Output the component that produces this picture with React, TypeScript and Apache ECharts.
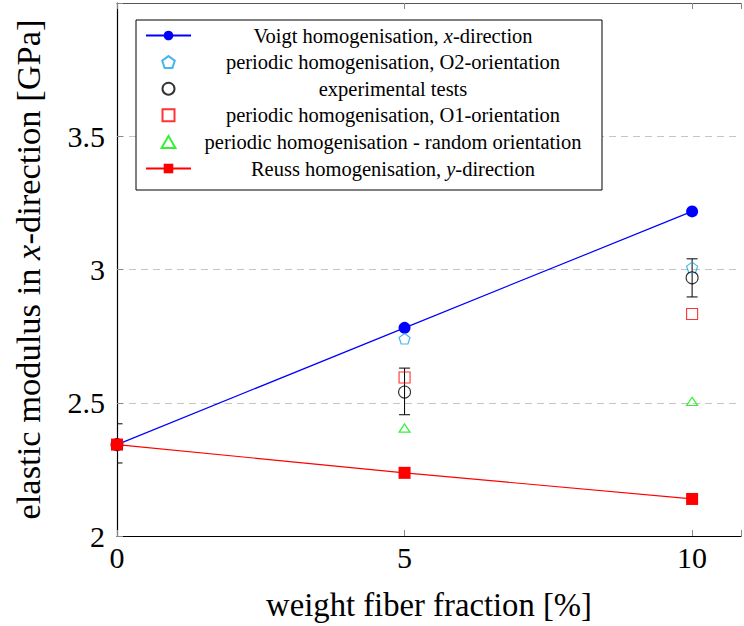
import React, { useEffect, useRef } from "react";
import * as echarts from "echarts";

// ---- data ----
const voigtX = [0, 5, 10];
const voigtY = [2.343, 2.781, 3.218];
const reussX = [0, 5, 10];
const reussY = [2.343, 2.237, 2.139];
const o2X = [5, 10];
const o2Y = [2.74, 3.008];
const expX = [0, 5, 10];
const expY = [2.343, 2.54, 2.969];
const expLow = [2.274, 2.455, 2.897];
const expHigh = [2.421, 2.63, 3.04];
const o1X = [5, 10];
const o1Y = [2.595, 2.833];
const randX = [5, 10];
const randY = [2.405, 2.505];

const xTicks = [0, 5, 10];
const yTicks = [2, 2.5, 3, 3.5];

const NAMES = {
  voigt: "Voigt homogenisation, x-direction",
  o2: "periodic homogenisation, O2-orientation",
  exp: "experimental tests",
  o1: "periodic homogenisation, O1-orientation",
  rand: "periodic homogenisation - random orientation",
  reuss: "Reuss homogenisation, y-direction",
};

const FONT = "'Liberation Serif', 'Times New Roman', serif";
const pentagon = "path://M0,-10 L9.511,-3.09 L5.878,8.09 L-5.878,8.09 L-9.511,-3.09 Z";
const square = "path://M0,0 L10,0 L10,10 L0,10 Z";
const triangle = "path://M0,-10 L8.66,5 L-8.66,5 Z";

const zip = (xs: number[], ys: number[]) => xs.map((x, i) => [x, ys[i]]);

export default function App() {
  const ref = useRef<HTMLDivElement>(null);
  useEffect(() => {
    if (!ref.current) return;
    const chart = echarts.init(ref.current, null, { renderer: "svg" });
    const legendFmt = (name: string) => {
      const m = name.match(/^(.*, )([xy])(-direction)$/);
      if (m) return `{n|${m[1]}}{i|${m[2]}}{n|${m[3]}}`;
      return `{n|${name}}`;
    };
    const LF = 20.5;
    const LH = 20;
    chart.setOption({
      animation: false,
      backgroundColor: "#fff",
      textStyle: { fontFamily: FONT },
      grid: { left: 117, right: 0, top: 3, bottom: 90, containLabel: false },
      legend: {
        left: 136,
        top: 20,
        orient: "vertical",
        padding: [5, 12, 11, 9],
        itemWidth: 45,
        itemHeight: 12,
        itemGap: 5.6,
        symbolKeepAspect: true,
        borderColor: "#000",
        borderWidth: 1,
        backgroundColor: "#fff",
        data: [NAMES.voigt, NAMES.o2, NAMES.exp, NAMES.o1, NAMES.rand, NAMES.reuss],
        formatter: legendFmt,
        textStyle: {
          fontFamily: FONT,
          fontSize: LF,
          color: "#000",
          width: 394,
          lineHeight: LH,
          rich: {
            n: { fontFamily: FONT, fontSize: LF, lineHeight: LH, align: "center", color: "#000" },
            i: { fontFamily: FONT, fontSize: LF, lineHeight: LH, fontStyle: "italic", align: "center", color: "#000" },
          },
        },
      },
      xAxis: [
        {
          type: "value",
          min: 0,
          max: 10.85,
          interval: 5,
          position: "bottom",
          axisLine: { show: true, onZero: false, lineStyle: { color: "#000", width: 1.2 } },
          axisTick: { show: true, inside: true, length: 6, lineStyle: { color: "#888" } },
          axisLabel: {
            fontFamily: FONT,
            fontSize: 30,
            color: "#000",
            margin: 6,
            formatter: (v: number) => (xTicks.includes(v) ? String(v) : ""),
          },
          splitLine: { show: false },
          name: "weight fiber fraction [%]",
          nameLocation: "middle",
          nameGap: 52,
          nameTextStyle: { fontFamily: FONT, fontSize: 32.7, color: "#000" },
        },
        {
          type: "value",
          min: 0,
          max: 10.85,
          interval: 5,
          position: "top",
          axisLine: { show: true, onZero: false, lineStyle: { color: "#555", width: 1.2 } },
          axisTick: { show: true, inside: true, length: 6, lineStyle: { color: "#888" } },
          axisLabel: { show: false },
          splitLine: { show: false },
        },
      ],
      yAxis: {
        type: "value",
        min: 2,
        max: 4,
        interval: 0.5,
        axisLine: { show: true, onZero: false, lineStyle: { color: "#000", width: 1.2 } },
        axisTick: { show: true, inside: true, length: 6, lineStyle: { color: "#888" } },
        axisLabel: {
          fontFamily: FONT,
          fontSize: 30,
          color: "#000",
          margin: 12,
          formatter: (v: number) => (yTicks.includes(v) ? String(v) : ""),
        },
        splitLine: {
          show: true,
          lineStyle: { color: "#c4c4c4", type: [7, 5], width: 1 },
        },
        name: "{n|elastic modulus in }{i|x}{n|-direction [GPa]}",
        nameLocation: "middle",
        nameGap: 72,
        nameRotate: 90,
        nameTextStyle: {
          fontFamily: FONT,
          fontSize: 34.5,
          color: "#000",
          rich: {
            n: { fontFamily: FONT, fontSize: 34.5, color: "#000" },
            i: { fontFamily: FONT, fontSize: 34.5, fontStyle: "italic", color: "#000" },
          },
        },
      },
      series: [
        {
          name: "experimental error",
          type: "custom",
          clip: true,
          z: 3,
          encode: { x: 0, y: [1, 2] },
          data: expX.map((x, i) => [x, expLow[i], expHigh[i]]),
          renderItem: (params: any, api: any) => {
            const x = api.value(0);
            const lo = api.coord([x, api.value(1)]);
            const hi = api.coord([x, api.value(2)]);
            const hw = 5.5;
            const st = { stroke: "#000", lineWidth: 1 };
            return {
              type: "group",
              children: [
                { type: "line", shape: { x1: lo[0], y1: lo[1], x2: hi[0], y2: hi[1] }, style: st },
                { type: "line", shape: { x1: lo[0] - hw, y1: lo[1], x2: lo[0] + hw, y2: lo[1] }, style: st },
                { type: "line", shape: { x1: hi[0] - hw, y1: hi[1], x2: hi[0] + hw, y2: hi[1] }, style: st },
              ],
            };
          },
        },
        {
          name: NAMES.voigt,
          type: "line",
          data: zip(voigtX, voigtY),
          symbol: "circle",
          symbolSize: 12,
          showSymbol: true,
          z: 4,
          itemStyle: { color: "#0000ff" },
          lineStyle: { color: "#0000ff", width: 1.2 },
        },
        {
          name: NAMES.o2,
          type: "scatter",
          data: zip(o2X, o2Y),
          symbol: pentagon,
          symbolSize: 11,
          symbolKeepAspect: true,
          z: 5,
          itemStyle: { color: "rgba(0,0,0,0)", borderColor: "#1aa3e8", borderWidth: 1.2 },
        },
        {
          name: NAMES.exp,
          type: "scatter",
          data: zip(expX, expY),
          symbol: "circle",
          symbolSize: 12,
          z: 5,
          itemStyle: { color: "rgba(0,0,0,0)", borderColor: "#000", borderWidth: 1.1 },
        },
        {
          name: NAMES.o1,
          type: "scatter",
          data: zip(o1X, o1Y),
          symbol: square,
          symbolSize: 11,
          symbolKeepAspect: true,
          z: 5,
          itemStyle: { color: "rgba(0,0,0,0)", borderColor: "#ff0000", borderWidth: 1.1 },
        },
        {
          name: NAMES.rand,
          type: "scatter",
          data: zip(randX, randY),
          symbol: triangle,
          symbolSize: [11, 9.5],
          symbolKeepAspect: true,
          z: 5,
          itemStyle: { color: "rgba(0,0,0,0)", borderColor: "#00ee00", borderWidth: 1.2 },
        },
        {
          name: NAMES.reuss,
          type: "line",
          data: zip(reussX, reussY),
          symbol: "rect",
          symbolSize: 12,
          showSymbol: true,
          z: 6,
          itemStyle: { color: "#ff0000" },
          lineStyle: { color: "#ff0000", width: 1.2 },
        },
      ],
    });
    return () => chart.dispose();
  }, []);
  return (
    <div
      ref={ref}
      style={{ position: "fixed", left: 0, top: 0, width: 744, height: 626 }}
    />
  );
}
